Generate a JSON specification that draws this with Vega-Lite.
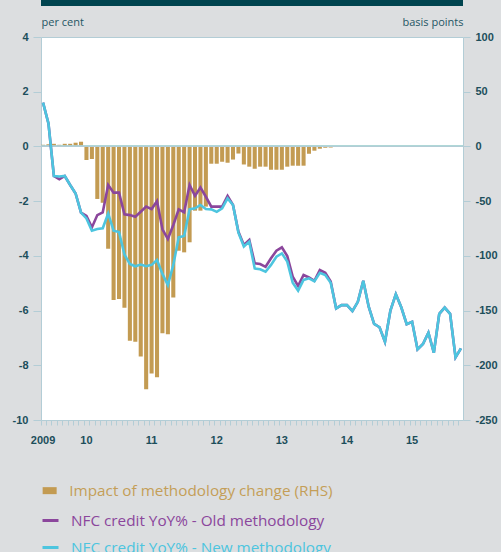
{
  "$schema": "https://vega.github.io/schema/vega-lite/v6.json",
  "width": 422,
  "height": 383,
  "autosize": "none",
  "padding": {"left": 41, "top": 37, "right": 38, "bottom": 132},
  "background": "#dcdee0",
  "view": {"fill": "#ffffff", "stroke": "#b3cdd6", "strokeWidth": 1},
  "config": {
    "axis": {
      "domain": false, "grid": false, "tickColor": "#b3cdd6", "tickWidth": 1,
      "labelFont": "Liberation Sans", "labelFontWeight": "bold", "labelFontSize": 11, "labelColor": "#1c4e5b",
      "titleFont": "Open Sans", "titleFontSize": 11, "titleFontWeight": "normal", "titleColor": "#1f5664"
    },
    "legend": {"labelFont": "Open Sans", "labelFontSize": 15.3, "labelLimit": 0, "padding": 0, "orient": "none", "direction": "vertical"}
  },
  "data": {"values": [
    {"month": "2009-05", "impact": 1.5, "old": 1.60, "new": 1.60},
    {"month": "2009-06", "impact": 2.1, "old": 0.84, "new": 0.84},
    {"month": "2009-07", "impact": 2.4, "old": -1.08, "new": -1.08},
    {"month": "2009-08", "impact": 1.5, "old": -1.20, "new": -1.10},
    {"month": "2009-09", "impact": 2.4, "old": -1.08, "new": -1.08},
    {"month": "2009-10", "impact": 2.4, "old": -1.41, "new": -1.41},
    {"month": "2009-11", "impact": 3.4, "old": -1.72, "new": -1.72},
    {"month": "2009-12", "impact": 4.3, "old": -2.42, "new": -2.42},
    {"month": "2010-01", "impact": -12.4, "old": -2.54, "new": -2.63},
    {"month": "2010-02", "impact": -11.5, "old": -2.96, "new": -3.08},
    {"month": "2010-03", "impact": -48.0, "old": -2.51, "new": -3.02},
    {"month": "2010-04", "impact": -51.5, "old": -2.41, "new": -2.99},
    {"month": "2010-05", "impact": -93.5, "old": -1.41, "new": -2.45},
    {"month": "2010-06", "impact": -140.4, "old": -1.69, "new": -3.08},
    {"month": "2010-07", "impact": -139.5, "old": -1.69, "new": -3.13},
    {"month": "2010-08", "impact": -147.4, "old": -2.48, "new": -3.95},
    {"month": "2010-09", "impact": -177.5, "old": -2.51, "new": -4.30},
    {"month": "2010-10", "impact": -178.5, "old": -2.57, "new": -4.38},
    {"month": "2010-11", "impact": -192.0, "old": -2.39, "new": -4.32},
    {"month": "2010-12", "impact": -222.0, "old": -2.20, "new": -4.38},
    {"month": "2011-01", "impact": -207.4, "old": -2.29, "new": -4.33},
    {"month": "2011-02", "impact": -211.0, "old": -2.00, "new": -4.15},
    {"month": "2011-03", "impact": -170.8, "old": -3.03, "new": -4.66},
    {"month": "2011-04", "impact": -171.7, "old": -3.38, "new": -5.07},
    {"month": "2011-05", "impact": -138.0, "old": -2.87, "new": -4.33},
    {"month": "2011-06", "impact": -95.3, "old": -2.30, "new": -3.32},
    {"month": "2011-07", "impact": -96.8, "old": -2.41, "new": -3.27},
    {"month": "2011-08", "impact": -87.6, "old": -1.41, "new": -2.30},
    {"month": "2011-09", "impact": -58.7, "old": -1.81, "new": -2.26},
    {"month": "2011-10", "impact": -58.7, "old": -1.50, "new": -2.14},
    {"month": "2011-11", "impact": -55.0, "old": -1.84, "new": -2.29},
    {"month": "2011-12", "impact": -15.8, "old": -2.20, "new": -2.30},
    {"month": "2012-01", "impact": -15.8, "old": -2.20, "new": -2.39},
    {"month": "2012-02", "impact": -14.0, "old": -2.20, "new": -2.26},
    {"month": "2012-03", "impact": -14.9, "old": -1.81, "new": -1.90},
    {"month": "2012-04", "impact": -12.0, "old": -2.14, "new": -2.14},
    {"month": "2012-05", "impact": -6.5, "old": -3.12, "new": -3.15},
    {"month": "2012-06", "impact": -16.5, "old": -3.60, "new": -3.66},
    {"month": "2012-07", "impact": -18.5, "old": -3.42, "new": -3.48},
    {"month": "2012-08", "impact": -20.4, "old": -4.27, "new": -4.46},
    {"month": "2012-09", "impact": -18.5, "old": -4.30, "new": -4.49},
    {"month": "2012-10", "impact": -18.5, "old": -4.40, "new": -4.58},
    {"month": "2012-11", "impact": -21.3, "old": -4.09, "new": -4.33},
    {"month": "2012-12", "impact": -21.3, "old": -3.81, "new": -4.03},
    {"month": "2013-01", "impact": -21.3, "old": -3.69, "new": -3.91},
    {"month": "2013-02", "impact": -18.5, "old": -4.01, "new": -4.21},
    {"month": "2013-03", "impact": -17.6, "old": -4.76, "new": -4.98},
    {"month": "2013-04", "impact": -17.6, "old": -5.10, "new": -5.27},
    {"month": "2013-05", "impact": -17.6, "old": -4.70, "new": -4.88},
    {"month": "2013-06", "impact": -6.7, "old": -4.79, "new": -4.82},
    {"month": "2013-07", "impact": -3.9, "old": -4.91, "new": -4.93},
    {"month": "2013-08", "impact": -2.1, "old": -4.52, "new": -4.62},
    {"month": "2013-09", "impact": -1.2, "old": -4.62, "new": -4.70},
    {"month": "2013-10", "impact": -1.0, "old": -4.94, "new": -4.98},
    {"month": "2013-11", "impact": 0, "old": -5.92, "new": -5.92},
    {"month": "2013-12", "impact": 0, "old": -5.80, "new": -5.80},
    {"month": "2014-01", "impact": 0, "old": -5.80, "new": -5.80},
    {"month": "2014-02", "impact": 0, "old": -6.02, "new": -6.02},
    {"month": "2014-03", "impact": 0, "old": -5.68, "new": -5.68},
    {"month": "2014-04", "impact": 0, "old": -4.91, "new": -4.91},
    {"month": "2014-05", "impact": 0, "old": -5.86, "new": -5.86},
    {"month": "2014-06", "impact": 0, "old": -6.49, "new": -6.49},
    {"month": "2014-07", "impact": 0, "old": -6.61, "new": -6.61},
    {"month": "2014-08", "impact": 0, "old": -7.14, "new": -7.14},
    {"month": "2014-09", "impact": 0, "old": -6.00, "new": -6.00},
    {"month": "2014-10", "impact": 0, "old": -5.40, "new": -5.40},
    {"month": "2014-11", "impact": 0, "old": -5.88, "new": -5.88},
    {"month": "2014-12", "impact": 0, "old": -6.50, "new": -6.50},
    {"month": "2015-01", "impact": 0, "old": -6.41, "new": -6.41},
    {"month": "2015-02", "impact": 0, "old": -7.42, "new": -7.42},
    {"month": "2015-03", "impact": 0, "old": -7.22, "new": -7.22},
    {"month": "2015-04", "impact": 0, "old": -6.81, "new": -6.81},
    {"month": "2015-05", "impact": 0, "old": -7.54, "new": -7.54},
    {"month": "2015-06", "impact": 0, "old": -6.12, "new": -6.12},
    {"month": "2015-07", "impact": 0, "old": -5.89, "new": -5.89},
    {"month": "2015-08", "impact": 0, "old": -6.12, "new": -6.12},
    {"month": "2015-09", "impact": 0, "old": -7.71, "new": -7.71},
    {"month": "2015-10", "impact": 0, "old": -7.38, "new": -7.38}
  ]},
  "layer": [
    {
      "mark": {"type": "bar"},
      "encoding": {
        "x": {
          "field": "month", "type": "ordinal",
          "scale": {"type": "band", "paddingInner": 0.25, "paddingOuter": 0},
          "axis": {
            "title": null, "orient": "bottom", "tickSize": 5, "labelPadding": 9, "labelAngle": 0,
            "bandPosition": 0, "labelOverlap": false,
            "labelExpr": "datum.value == '2009-05' ? '2009' : (slice(datum.value, 5) == '01' ? slice(datum.value, 2, 4) : '')"
          }
        },
        "y": {
          "field": "impact", "type": "quantitative",
          "scale": {"domain": [-250, 100], "nice": false},
          "axis": {
            "orient": "right", "values": [-250, -200, -150, -100, -50, 0, 50, 100],
            "tickSize": 7, "labelPadding": 5,
            "labelExpr": "replace(datum.label, '−', '-')",
            "title": "basis points", "titleAngle": 0, "titleAlign": "right", "titleBaseline": "alphabetic",
            "titleX": 0, "titleY": -12
          }
        },
        "fill": {
          "datum": "Impact of methodology change (RHS)", "type": "nominal",
          "scale": {"range": ["#c39b52"]},
          "legend": {
            "title": null, "legendX": 1, "legendY": 446,
            "symbolType": "M-1,-0.5H1V0.5H-1Z", "symbolSize": 196, "symbolStrokeWidth": 0,
            "labelOffset": 12, "labelColor": "#c49e58"
          }
        }
      }
    },
    {
      "encoding": {
        "x": {"field": "month", "type": "ordinal", "scale": {"type": "band", "paddingInner": 0.25, "paddingOuter": 0}}
      },
      "layer": [
        {
          "mark": {"type": "rule", "color": "#b3cdd6", "strokeWidth": 1},
          "encoding": {"y": {"datum": 0, "type": "quantitative"}, "x": null}
        },
        {
          "mark": {"type": "line", "strokeWidth": 2.6},
          "encoding": {
            "y": {
              "field": "old", "type": "quantitative",
              "scale": {"domain": [-10, 4], "nice": false},
              "axis": {
                "orient": "left", "values": [-10, -8, -6, -4, -2, 0, 2, 4],
                "tickSize": 8, "labelPadding": 5,
                "labelExpr": "replace(datum.label, '−', '-')",
                "title": "per cent", "titleAngle": 0, "titleAlign": "left", "titleBaseline": "alphabetic",
                "titleX": 0, "titleY": -12
              }
            },
            "stroke": {
              "datum": "NFC credit YoY% - Old methodology", "type": "nominal",
              "scale": {
                "domain": ["NFC credit YoY% - Old methodology", "NFC credit YoY% - New methodology"],
                "range": ["#8b469c", "#4dc5df"]
              },
              "legend": {
                "title": null, "legendX": 0, "legendY": 474,
                "symbolType": "stroke", "symbolSize": 256, "symbolStrokeWidth": 3,
                "labelOffset": 11, "rowPadding": 9,
                "labelColor": {"expr": "datum.value == 'NFC credit YoY% - Old methodology' ? '#8b469c' : '#4dc5df'"}
              }
            }
          }
        },
        {
          "mark": {"type": "line", "strokeWidth": 2.6},
          "encoding": {
            "y": {"field": "new", "type": "quantitative"},
            "stroke": {"datum": "NFC credit YoY% - New methodology", "type": "nominal"}
          }
        },
        {
          "mark": {"type": "rect", "color": "#00444f"},
          "encoding": {
            "x": {"datum": "2009-05", "bandPosition": 0},
            "x2": {"datum": "2015-10", "bandPosition": 1},
            "y": {"datum": 5.352, "type": "quantitative"},
            "y2": {"datum": 5.144}
          }
        }
      ]
    }
  ],
  "resolve": {"scale": {"y": "independent"}}
}
